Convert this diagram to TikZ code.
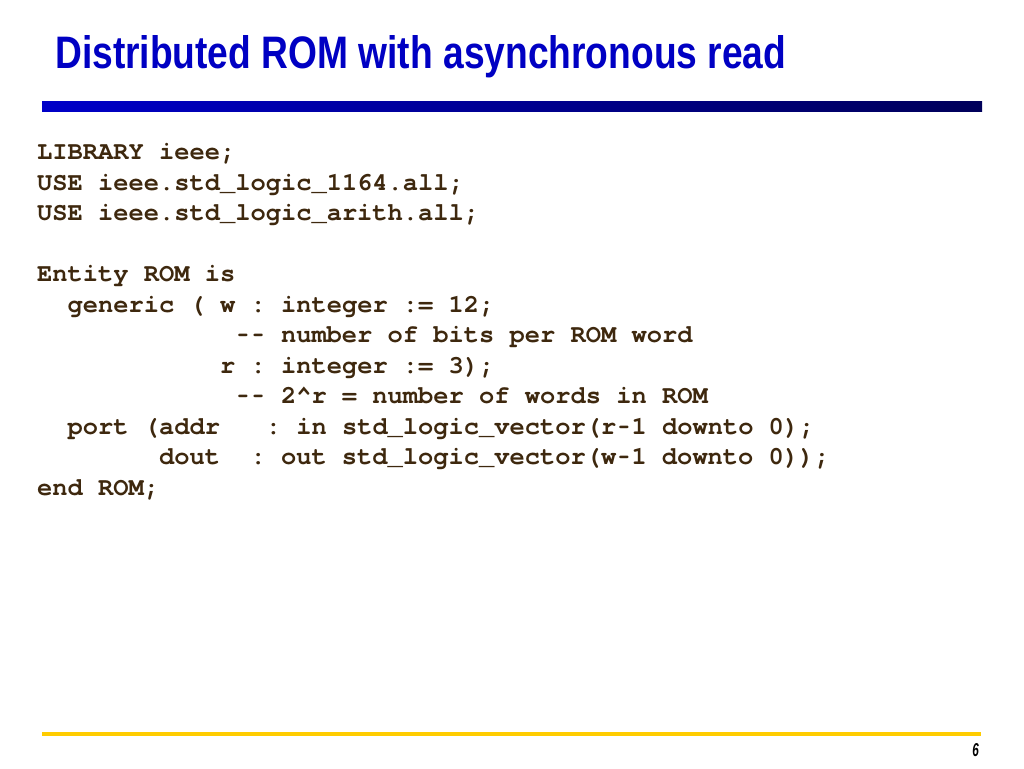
\documentclass[tikz,border=0pt]{standalone}
\usepackage{fontspec}
\usepackage{graphicx}
\newfontfamily\titlefont{Liberation Sans}
\newfontfamily\codefont{TeX Gyre Cursor}
\newcommand\hy{\makebox[0.6em][c]{\scalebox{0.7}[1]{-}}}
\definecolor{titleblue}{RGB}{0,0,195}
\definecolor{barleft}{RGB}{0,0,200}
\definecolor{barright}{RGB}{0,0,90}
\definecolor{goldline}{RGB}{255,204,0}
\definecolor{codebrown}{RGB}{62,40,14}
\tikzset{
  codeline/.style={anchor=base west, inner sep=0pt, text=codebrown,
    font=\codefont\bfseries\frenchspacing\fontsize{25.4pt}{30pt}\selectfont},
}
\begin{document}
\begin{tikzpicture}[x=1pt,y=-1pt]
\useasboundingbox[fill=white] (0,0) rectangle (1024,768);
% title
\node[anchor=base west, inner sep=0pt, text=titleblue] (title) at (55,68)
  {\resizebox{731pt}{33pt}{\titlefont\bfseries Distributed ROM with asynchronous read}};
% blue gradient bar
\shade[left color=barleft, right color=barright] (42,101) rectangle (982,111);
% code
\node[codeline] (l1) at (37,159.5) {LIBRARY ieee;};
\node[codeline] (l2) at (37,190) {USE ieee.std\_logic\_1164.all;};
\node[codeline] (l3) at (37,220.5) {USE ieee.std\_logic\_arith.all;};
\node[codeline] (l5) at (37,281.5) {Entity ROM is};
\node[codeline] (l6) at (67.5,312) {generic ( w : integer := 12;};
\node[codeline] (l7) at (235.1,342.5) {\hy\hy{} number of bits per ROM word};
\node[codeline] (l8) at (219.9,373) {r : integer := 3);};
\node[codeline] (l9) at (235.1,403.5) {\hy\hy{} 2\textasciicircum r = number of words in ROM};
\node[codeline] (l10) at (67.5,434) {port (addr~~~: in std\_logic\_vector(r\hy1 downto 0);};
\node[codeline] (l11) at (158.9,464.5) {dout~~: out std\_logic\_vector(w\hy1 downto 0));};
\node[codeline] (l12) at (37,495) {end ROM;};
% bottom line
\fill[goldline] (42,732) rectangle (981,735.5);
\node[anchor=base east, inner sep=0pt, text=black] (pg) at (979,756)
  {\resizebox{6.5pt}{13pt}{\titlefont\bfseries\itshape 6}};
\end{tikzpicture}
\end{document}
